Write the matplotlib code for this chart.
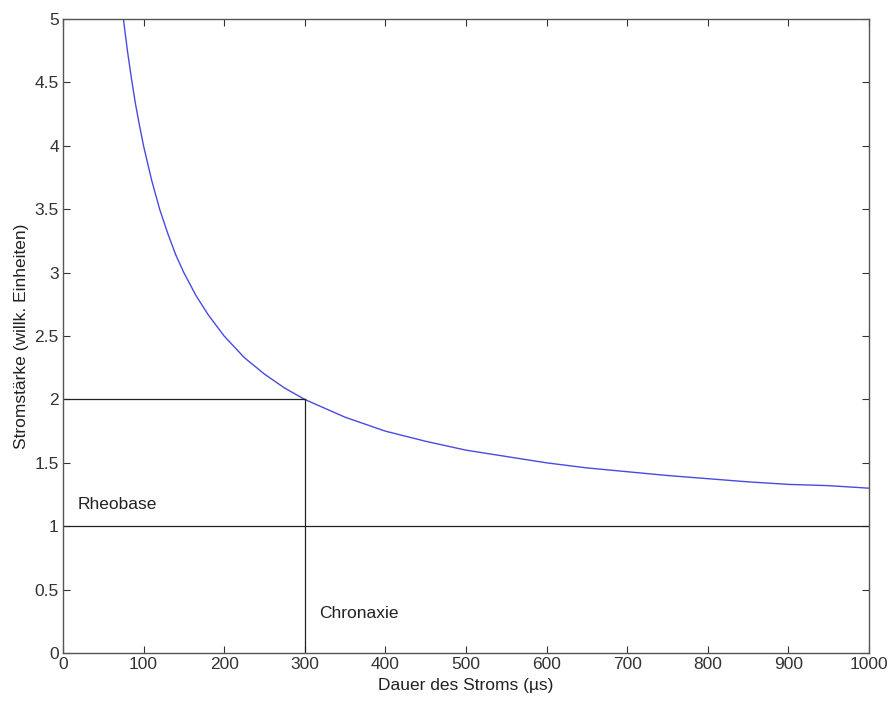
import matplotlib
matplotlib.use("Agg")
import matplotlib.pyplot as plt

# Strength-duration curve
duration = [75, 80, 85, 90, 95, 100, 110, 120, 130, 140, 150, 165, 180, 200, 225, 250, 275, 300,
            350, 400, 450, 500, 550, 600, 650, 700, 750, 800, 850, 900, 950, 1000]
current = [5.0, 4.75, 4.53, 4.33, 4.16, 4.0, 3.73, 3.5, 3.31, 3.14, 3.0, 2.82, 2.67, 2.5, 2.33, 2.2, 2.09, 2.0,
           1.86, 1.75, 1.67, 1.6, 1.55, 1.5, 1.46, 1.43, 1.4, 1.375, 1.35, 1.33, 1.32, 1.3]

rheobase = 1.0
chronaxie = 300
chronaxie_current = 2.0

xticks = [0, 100, 200, 300, 400, 500, 600, 700, 800, 900, 1000]
yticks = [0, 0.5, 1, 1.5, 2, 2.5, 3, 3.5, 4, 4.5, 5]
ytick_labels = ["0", "0.5", "1", "1.5", "2", "2.5", "3", "3.5", "4", "4.5", "5"]

plt.rcParams['font.family'] = ['Liberation Sans', 'DejaVu Sans']

fs = 12.5
fig = plt.figure(figsize=(8.93, 7.02), dpi=100)
ax = fig.add_axes([0.0705, 0.0698, 0.9025, 0.903])

ax.plot(duration, current, color='#4a4ae0', linewidth=1.0)
ax.plot([0, 1000], [rheobase, rheobase], color='#222222', linewidth=0.9)
ax.plot([0, chronaxie], [chronaxie_current, chronaxie_current], color='#222222', linewidth=0.9)
ax.plot([chronaxie, chronaxie], [0, chronaxie_current], color='#222222', linewidth=0.9)

ax.text(18, 1.17, "Rheobase", fontsize=fs, va='center', ha='left', color='#222222')
ax.text(318, 0.31, "Chronaxie", fontsize=fs, va='center', ha='left', color='#222222')

ax.set_xlim(0, 1000)
ax.set_ylim(0, 5)
ax.set_xticks(xticks)
ax.set_yticks(yticks)
ax.set_yticklabels(ytick_labels)
ax.tick_params(direction='in', top=True, right=True, labelsize=fs, length=5, width=0.8,
               colors='#333333', pad=3)
for s in ax.spines.values():
    s.set_color('#555555')
    s.set_linewidth(1.0)

ax.set_xlabel("Dauer des Stroms (µs)", fontsize=fs, color='#222222', labelpad=4)
ax.set_ylabel("Stromstärke (willk. Einheiten)", fontsize=fs, color='#222222', labelpad=4)

fig.savefig("out.png", dpi=100)
